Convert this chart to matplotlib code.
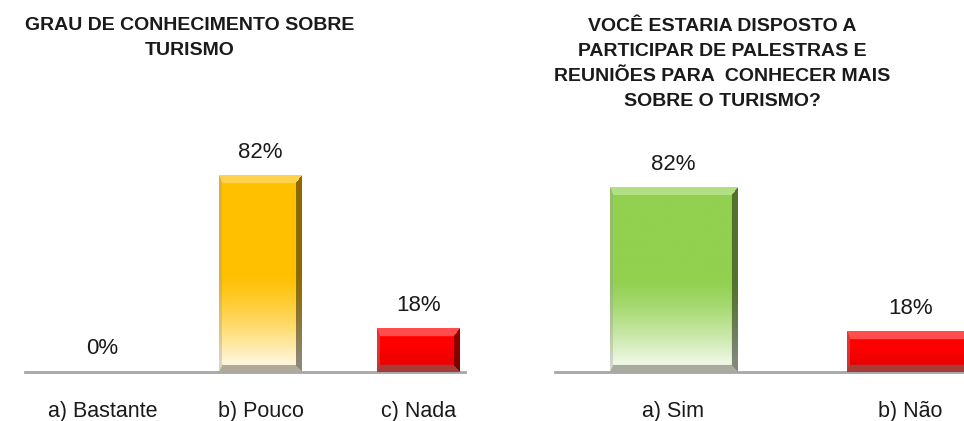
import numpy as np
import matplotlib
matplotlib.use("Agg")
import matplotlib.pyplot as plt
from matplotlib.colors import to_rgb

plt.rcParams["font.family"] = ["Liberation Sans", "DejaVu Sans"]

# Gráfico da esquerda
titulo_conhecimento = "GRAU DE CONHECIMENTO SOBRE\nTURISMO"
categorias_conhecimento = ["a) Bastante", "b) Pouco", "c) Nada"]
valores_conhecimento = [0, 82, 18]
cores_conhecimento = ["#FFC000", "#FFC000", "#FF0000"]

# Gráfico da direita
titulo_palestras = ("VOCÊ ESTARIA DISPOSTO A\nPARTICIPAR DE PALESTRAS E\n"
                    "REUNIÕES PARA  CONHECER MAIS\nSOBRE O TURISMO?")
categorias_palestras = ["a) Sim", "b) Não"]
valores_palestras = [82, 18]
cores_palestras = ["#92D050", "#FF0000"]

W, H = 964, 421


def bevel_image(cor, w, h):
    """Imagem RGB de uma barra com efeito chanfrado e degradê."""
    base = np.array(to_rgb(cor))
    white = np.ones(3)
    yy, xx = np.mgrid[0:h, 0:w]
    y = yy / max(h - 1, 1)
    img = np.ones((h, w, 3)) * base
    if cor != "#FF0000":
        # clareia a parte de baixo da barra
        t = (np.clip((y - 0.5) / 0.45, 0, 1) ** 1.3)[..., None]
        img = img * (1 - 0.85 * t) + white * 0.85 * t
    else:
        t = (np.clip((y - 0.4) / 0.6, 0, 1))[..., None]
        img = img * (1 - 0.12 * t)

    # chanfro: topo, base, esquerda, direita (px)
    bt, bb, bl, br = 8, 7, 3, 6
    d = np.stack([yy / bt, (h - 1 - yy) / bb, xx / bl, (w - 1 - xx) / br])
    reg = d.argmin(0)
    mask = d.min(0) < 1
    top = mask & (reg == 0)
    bot = mask & (reg == 1)
    lef = mask & (reg == 2)
    rig = mask & (reg == 3)
    img[top] = img[top] * 0.7 + white * 0.3
    img[bot] = img[bot] * 0.45 + np.array([0.45, 0.43, 0.40]) * 0.55
    img[lef] = img[lef] * 0.65 + np.array([0.6, 0.6, 0.6]) * 0.35
    img[rig] = img[rig] * 0.55
    return np.clip(img, 0, 1)


def draw_chart(ax, categorias, valores, cores, largura, xlim, ylim):
    x = np.arange(len(categorias))
    ax.set_xlim(*xlim)
    ax.set_ylim(*ylim)
    bars = ax.bar(x, valores, largura, color="none", edgecolor="none")

    for rect, cor, v in zip(bars, cores, valores):
        x0, w, hgt = rect.get_x(), rect.get_width(), rect.get_height()
        p0 = ax.transData.transform((x0, 0))
        p1 = ax.transData.transform((x0 + w, hgt))
        wpx, hpx = int(round(p1[0] - p0[0])), int(round(p1[1] - p0[1]))
        if hpx >= 2:
            ax.imshow(bevel_image(cor, wpx, hpx), extent=(x0, x0 + w, 0, hgt),
                      aspect="auto", interpolation="bilinear", zorder=2)
        ax.annotate(f"{v}%", xy=(rect.get_x() + w / 2, hgt), xytext=(0, 9),
                    textcoords="offset points", ha="center", va="bottom",
                    fontsize=16, color="#1a1a1a")

    ax.set_xlim(*xlim)
    ax.set_ylim(*ylim)
    ax.set_xticks(x)
    ax.set_xticklabels(categorias, fontsize=15.5, color="#1a1a1a")
    ax.tick_params(axis="x", length=0, pad=21)
    ax.set_yticks([])
    for s in ["top", "left", "right"]:
        ax.spines[s].set_visible(False)
    ax.spines["bottom"].set_color("#A6A6A6")
    ax.spines["bottom"].set_linewidth(2)
    ax.spines["bottom"].set_zorder(1)


fig = plt.figure(figsize=(W / 100, H / 100), dpi=100)

# eixo da esquerda: base em y=372 px, 2.4 px por ponto percentual
ax1 = fig.add_axes([25 / W, (H - 372) / H, 440 / W, 216 / H])
draw_chart(ax1, categorias_conhecimento, valores_conhecimento, cores_conhecimento,
           0.525, (-0.49, 2.294), (0, 90))

# eixo da direita
ax2 = fig.add_axes([555 / W, (H - 372) / H, 409 / W, 202.5 / H])
draw_chart(ax2, categorias_palestras, valores_palestras, cores_palestras,
           0.536, (-0.5, 1.226), (0, 90))

fig.text(190 / W, 1 - 38 / H, titulo_conhecimento, ha="center", va="center",
         fontsize=14, fontweight="bold", linespacing=1.6, color="#1a1a1a")
fig.text(722 / W, 1 - 64 / H, titulo_palestras, ha="center", va="center",
         fontsize=14, fontweight="bold", linespacing=1.6, color="#1a1a1a")

fig.savefig("out.png", dpi=100, facecolor="white")
